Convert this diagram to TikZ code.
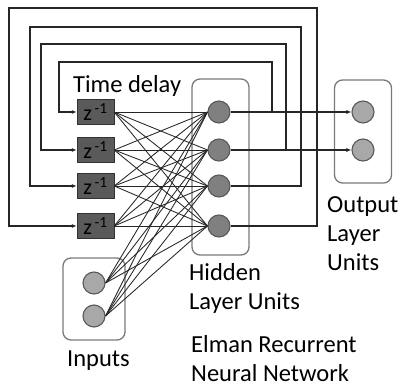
\documentclass[tikz,border=0pt]{standalone}
\usepackage{fontspec}
\setmainfont{Carlito}
\usetikzlibrary{arrows.meta}
\definecolor{delayfill}{HTML}{5A5A5A}
\definecolor{hiddenfill}{HTML}{808080}
\definecolor{unitfill}{HTML}{A8A8A8}
\definecolor{wirecol}{HTML}{262626}
\definecolor{framecol}{HTML}{7A7A7A}

\begin{document}
\begin{tikzpicture}[
    x=1pt, y=-1pt,
    >={Latex[length=5pt,width=4pt]},
    font=\fontsize{24.5}{29}\selectfont,
    delaybox/.style={
        draw=black!80,
        fill=delayfill,
        minimum width=37pt,
        minimum height=25pt,
        inner sep=0pt,
        font=\fontsize{22}{22}\selectfont
    },
    hidden/.style={circle, draw=black!65, fill=hiddenfill, line width=1.1pt, minimum size=22pt, inner sep=0pt},
    unit/.style={circle, draw=black!65, fill=unitfill, line width=1.1pt, minimum size=22pt, inner sep=0pt},
    groupbox/.style={draw=framecol, line width=1.3pt, rounded corners=8pt, fill=white, inner sep=0pt},
    wire/.style={draw=wirecol, line width=0.85pt},
    feedback/.style={draw=wirecol, line width=1.1pt, ->},
    caption/.style={anchor=north west, inner sep=0pt, align=left}
]
\useasboundingbox[fill=white] (0,0) rectangle (399,387);

% Boxes
\node[groupbox, minimum width=57pt, minimum height=176pt] (HB) at (220.5,167) {};
\node[groupbox, minimum width=57pt, minimum height=103pt] (OB) at (363,131.5) {};
\node[groupbox, minimum width=62pt, minimum height=82pt] (IB) at (94,299) {};

% Time delay units
\node[delaybox] (D1) at (95.5,112) {z\textsuperscript{\,-1}};
\node[delaybox] (D2) at (95.5,150) {z\textsuperscript{\,-1}};
\node[delaybox] (D3) at (95.5,186) {z\textsuperscript{\,-1}};
\node[delaybox] (D4) at (95.5,226) {z\textsuperscript{\,-1}};

% Hidden layer
\node[hidden] (H1) at (219,112) {};
\node[hidden] (H2) at (219,150) {};
\node[hidden] (H3) at (219,186) {};
\node[hidden] (H4) at (219,226) {};

% Output and input layers
\node[unit] (O1) at (363,112) {};
\node[unit] (O2) at (363,150) {};
\node[unit] (I1) at (94,283) {};
\node[unit] (I2) at (94,316) {};

% Feedback corners
\coordinate (R1) at (272,62);
\coordinate (L1) at (59,62);
\coordinate (R2) at (286,44);
\coordinate (L2) at (41,44);
\coordinate (R3) at (301,27);
\coordinate (L3) at (30,27);
\coordinate (R4) at (317,8);
\coordinate (L4) at (9,8);

% Edges
\draw[wire] (D1.east) -- (H1.west);
\draw[wire] (D1.east) -- (H2.west);
\draw[wire] (D1.east) -- (H3.west);
\draw[wire] (D1.east) -- (H4.west);
\draw[wire] (D2.east) -- (H1.west);
\draw[wire] (D2.east) -- (H2.west);
\draw[wire] (D2.east) -- (H3.west);
\draw[wire] (D2.east) -- (H4.west);
\draw[wire] (D3.east) -- (H1.west);
\draw[wire] (D3.east) -- (H2.west);
\draw[wire] (D3.east) -- (H3.west);
\draw[wire] (D3.east) -- (H4.west);
\draw[wire] (D4.east) -- (H1.west);
\draw[wire] (D4.east) -- (H2.west);
\draw[wire] (D4.east) -- (H3.west);
\draw[wire] (D4.east) -- (H4.west);
\draw[wire] (I1.east) -- (H1.west);
\draw[wire] (I1.east) -- (H2.west);
\draw[wire] (I1.east) -- (H3.west);
\draw[wire] (I1.east) -- (H4.west);
\draw[wire] (I2.east) -- (H1.west);
\draw[wire] (I2.east) -- (H2.west);
\draw[wire] (I2.east) -- (H3.west);
\draw[wire] (I2.east) -- (H4.west);
\draw[feedback] (H1.east) -- (O1.west);
\draw[feedback] (H2.east) -- (O2.west);
\draw[feedback] (H1.east) -| (R1) -- (L1) |- (D1.west);
\draw[feedback] (H2.east) -| (R2) -- (L2) |- (D2.west);
\draw[feedback] (H3.east) -| (R3) -- (L3) |- (D3.west);
\draw[feedback] (H4.east) -| (R4) -- (L4) |- (D4.west);

% Labels
\node[caption] (TD) at (73,75) {Time delay};
\node[caption] (OL) at (327,196) {Output\\Layer\\Units};
\node[caption] (HL) at (189,263) {Hidden\\Layer Units};
\node[caption] (IL) at (67,351) {Inputs};
\node[caption] (EL) at (191,335) {Elman Recurrent\\Neural Network};

\end{tikzpicture}
\end{document}
